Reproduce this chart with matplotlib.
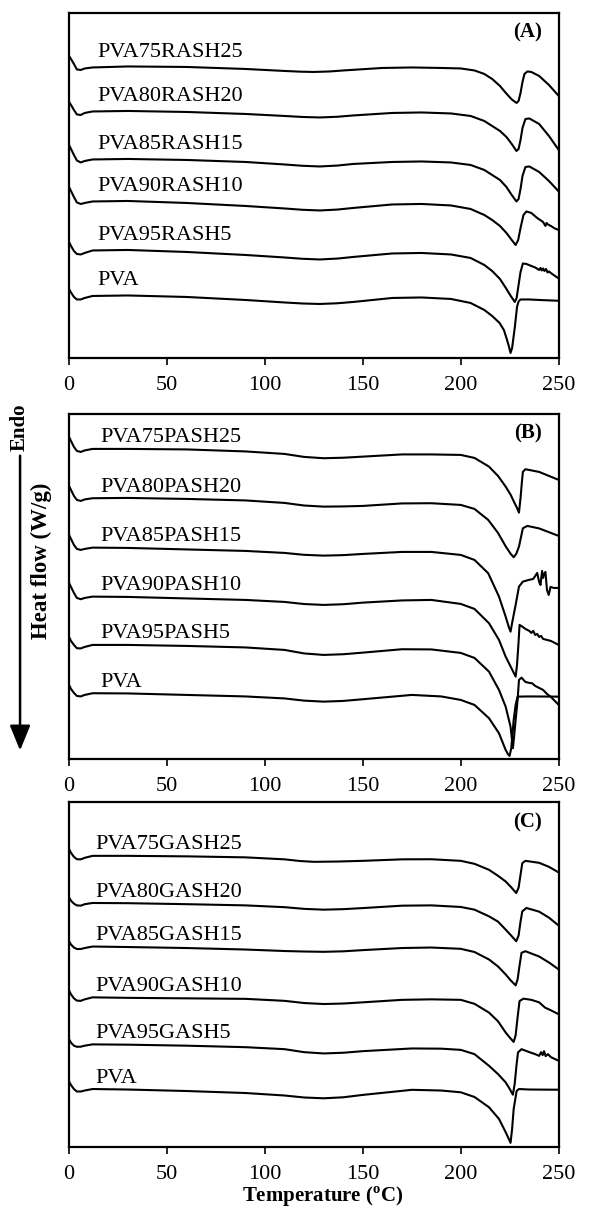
import numpy as np
import matplotlib
matplotlib.use("Agg")
import matplotlib.pyplot as plt

plt.rcParams['font.family'] = ['Liberation Serif', 'DejaVu Serif']
plt.rcParams['mathtext.fontset'] = 'custom'
plt.rcParams['mathtext.rm'] = 'Liberation Serif'
plt.rcParams['mathtext.bf'] = 'Liberation Serif:bold'

# DSC curves: (temperature degC, heat flow in arbitrary units)
a75 = [(0, 302), (1, 299), (2.5, 294), (4, 288.5), (6, 288), (8, 289.5), (12, 290.5), (30, 291.5),
       (60, 291), (90, 289), (110, 287), (118, 286.3), (125, 286), (133, 286.5), (140, 287.5),
       (160, 290), (175, 290.5), (190, 290), (200, 289.5), (207, 287.5), (212, 284), (216, 279),
       (220, 272), (223, 265), (226, 258.5), (228.5, 255), (229.5, 257), (230.5, 265),
       (231.5, 276), (232.5, 284), (234, 286.5), (236, 286), (240, 282), (245, 273), (250, 262)]
a80 = [(0, 256), (1, 253), (2.5, 248), (4, 243.5), (6, 243), (8, 245), (12, 246.5), (30, 247),
       (60, 246), (90, 244), (110, 242), (119, 241), (128, 240.5), (137, 241.2), (145, 242.5),
       (165, 245), (180, 245.5), (195, 244.5), (205, 242), (212, 237), (216, 232), (220, 227),
       (223.3, 221), (226, 214), (228.4, 207), (229.5, 209), (230.5, 218), (231.5, 230),
       (233, 239), (235, 239.5), (240, 234), (245, 222), (250, 208)]
a85 = [(0, 213), (1, 209), (2.5, 203), (4, 197.5), (6, 195.5), (8, 197), (12, 198.5), (30, 199),
       (60, 198), (90, 196), (110, 193.5), (119, 192.2), (128, 191.5), (137, 192.4), (145, 194),
       (165, 196), (180, 196.5), (195, 195.5), (205, 193), (212, 188), (216, 183), (220, 178),
       (223.3, 171), (226, 163), (228.4, 156.5), (229.5, 159), (230.5, 169), (231.5, 182),
       (233, 191), (235, 191.5), (240, 186), (245, 177), (250, 166.5)]
a90 = [(0, 171), (1, 167), (2.5, 161), (4, 155.5), (6, 154), (8, 155), (12, 156.5), (30, 157),
       (60, 155), (90, 152), (110, 149.5), (119, 148.2), (128, 147.5), (137, 148.4), (145, 150),
       (165, 153.5), (180, 154), (195, 152.5), (205, 149), (212, 143), (216, 138), (220, 132),
       (223.3, 125), (226, 118), (228, 113), (229.3, 118), (230.5, 130), (232, 143),
       (233.5, 146.5), (236, 145), (239, 140), (242, 136), (243.2, 132), (243.8, 135),
       (244.5, 133.5), (246, 132), (248, 129.5), (250, 128)]
a95 = [(0, 116), (1, 112), (2.5, 107), (4, 104), (6, 103.5), (8, 105), (12, 107.5), (30, 108),
       (60, 106), (90, 103), (110, 100.5), (119, 99.2), (128, 98.5), (137, 99.4), (145, 101),
       (165, 104.5), (180, 105), (195, 103.5), (205, 100), (212, 93), (216, 87), (220, 79),
       (223, 70), (225.5, 62), (227.6, 56), (228.5, 60), (229.5, 73), (230.5, 86),
       (231.7, 94.5), (233.5, 94), (236, 92), (238, 90.5), (240, 88), (240.7, 90), (241.3, 87.5),
       (242, 89.5), (242.7, 87), (243.5, 89), (244.3, 85.5), (245, 86.5), (247, 83.5),
       (250, 79.5)]
a_pva = [(0, 69), (1, 65.5), (2.5, 61), (4, 58.5), (6, 58.5), (8, 60), (12, 62), (30, 62.5),
         (60, 61), (90, 58), (110, 55.5), (119, 54.5), (128, 54), (137, 54.7), (145, 56),
         (165, 60), (180, 60.5), (195, 59), (205, 55), (212, 48), (216, 42), (219.8, 35),
         (222, 28), (223.3, 20), (224.5, 12), (225.4, 5), (226.2, 10), (227, 22), (227.6, 31),
         (228.7, 51), (229.5, 56.5), (230.5, 58.5), (235, 58.5), (240, 58), (250, 57.2)]

b75 = [(0, 322), (1, 318), (2.5, 312), (4, 308), (6, 307), (8, 308.5), (12, 310), (30, 310),
       (60, 309.5), (90, 307.5), (110, 305), (120, 302), (130, 300.7), (140, 301.2),
       (150, 302.3), (170, 304.5), (185, 304.5), (200, 304), (207, 301), (214.4, 292.3),
       (219, 283), (222.9, 272.3), (225.5, 264), (227.1, 257.3), (228.7, 251), (229.7, 246.3),
       (230.5, 261), (231.2, 277), (231.7, 287), (233, 289.7), (240, 287), (250, 279)]
b80 = [(0, 273), (1, 269), (2.5, 263), (4, 259), (6, 258), (8, 259.5), (12, 260.7), (30, 261),
       (60, 260), (90, 258.5), (110, 256), (120, 253.4), (130, 252.3), (140, 252.5), (150, 253),
       (170, 255.5), (185, 255.7), (200, 254), (207, 250), (214, 239), (219, 226),
       (223, 212.3), (225.5, 205), (227, 201.7), (228.3, 205), (229.7, 212.3), (231.7, 230.7),
       (234, 233), (240, 230.5), (250, 223)]
b85 = [(0, 224), (1, 220), (2.5, 214), (4, 210), (6, 209), (8, 210), (12, 211.3), (30, 211),
       (60, 209.5), (90, 208), (110, 206), (120, 204.1), (130, 203.3), (140, 203.8), (150, 205),
       (170, 207), (185, 207), (200, 204), (207, 199), (214, 185.7), (219.5, 162.3),
       (222.9, 142.3), (224.5, 132), (225.4, 127.3), (226.3, 137), (228, 154), (229.7, 172.3),
       (231.7, 177.3), (234.7, 179), (237, 180), (239, 186), (240, 177), (240.7, 174),
       (241.5, 188), (242, 181), (242.4, 184), (243.2, 187), (244, 169), (244.9, 164),
       (245.8, 172), (247.5, 171), (250, 171)]
b90 = [(0, 176), (1, 172), (2.5, 166), (4, 161), (6, 159.7), (8, 161), (12, 162.3), (30, 162),
       (60, 160.5), (90, 159), (110, 157), (120, 154.9), (130, 154), (140, 154.7), (150, 156.3),
       (170, 158.5), (185, 159), (200, 155), (207, 150), (214.4, 135.7), (219.5, 119),
       (222.9, 102.3), (226.3, 89), (228, 82.3), (228.7, 94), (229.4, 114), (230, 134),
       (231.4, 132.3), (233, 130), (235, 128), (236, 126), (237, 128), (238, 124), (239, 125),
       (240, 122), (241, 123), (242, 120), (244, 119), (246, 118), (248, 116), (250, 114)]
b95 = [(0, 122), (1, 118), (2.5, 114), (4, 110.7), (6, 110.5), (8, 112), (12, 114), (30, 114),
       (60, 113), (90, 111.5), (110, 109), (120, 105.5), (130, 104), (140, 104.7), (150, 106.3),
       (170, 109.7), (185, 109.5), (200, 106), (207, 101), (214.4, 87.3), (219.5, 69),
       (222.9, 52.3), (225.4, 32.3), (226.6, 10.7), (227.3, 24), (228, 39), (229, 59),
       (229.7, 79), (231, 81.3), (233, 77), (235, 76), (236.4, 75.7), (238, 73), (240, 71),
       (242, 69), (244, 65), (246, 62), (248, 58), (250, 54)]
b_pva = [(0, 74), (1, 70), (2.5, 66), (4, 63), (6, 62.5), (8, 64), (12, 65.7), (30, 65.5),
         (60, 64), (90, 62.5), (110, 60.5), (120, 58.3), (130, 57.3), (140, 58), (150, 59.7),
         (175, 64), (190, 62.5), (200, 59), (207, 54), (214.4, 40.7), (219.5, 25.7),
         (222.9, 9), (224, 5), (224.9, 3), (225.8, 11), (227, 39), (228, 54), (229, 62.3),
         (235, 62.5), (250, 62.3)]

c75 = [(0, 299), (1, 295), (2.5, 291), (4, 288.6), (6, 288.5), (8, 290), (12, 292), (30, 292),
       (60, 291.5), (90, 290.5), (110, 288.5), (118, 286.8), (125, 286), (137, 286.3),
       (150, 287), (170, 288.5), (185, 288.6), (200, 287), (207, 284), (214.4, 278), (219, 272),
       (222.9, 266.3), (225.5, 261), (228.3, 254.7), (229.5, 260), (230.5, 273),
       (231.4, 284.7), (233, 287), (240, 285), (245, 281), (250, 275.3)]
c80 = [(0, 250.4), (1, 247), (2.5, 244), (4, 242.3), (6, 242), (8, 243.5), (12, 244.7),
       (30, 244.5), (60, 243.5), (90, 242.3), (110, 240.5), (120, 238.8), (130, 238),
       (140, 238.5), (150, 239.6), (170, 242), (185, 242.3), (200, 240.7), (207, 238),
       (214.4, 231.3), (219, 226), (222.9, 218), (225.5, 212.5), (228.3, 206.3), (229.5, 212),
       (230.5, 226), (231.4, 236.3), (233.5, 239.7), (240, 236), (245, 230), (250, 222)]
c85 = [(0, 206.5), (1, 203), (2.5, 200), (4, 198.5), (6, 198.5), (8, 199.5), (12, 201),
       (30, 200.5), (60, 199.5), (90, 198), (110, 196.5), (120, 196), (130, 195.7), (140, 196.2),
       (150, 197.4), (170, 199.5), (185, 200), (200, 198.7), (207, 195.5), (214.4, 188),
       (219, 181), (222.9, 173), (225.5, 167), (228, 162), (229, 168), (230, 182), (231, 194.7),
       (233, 196.3), (240, 191), (245, 185), (250, 178)]
c90 = [(0, 157), (1, 153), (2.5, 149), (4, 146.7), (6, 146.5), (8, 148), (12, 150), (30, 149.5),
       (60, 149), (90, 148.5), (110, 146.5), (120, 144.3), (130, 143.3), (140, 143.8), (150, 145),
       (170, 147.5), (185, 148), (200, 147.5), (207, 143.5), (214.4, 134.7), (219, 126),
       (222.9, 114.7), (225.5, 108.5), (227, 105.3), (228, 112), (229, 130), (230, 146.3),
       (232, 148.7), (236, 147.5), (240, 145), (243, 139.7), (246, 137), (250, 133)]
c95 = [(0, 108), (1, 104.5), (2.5, 101.5), (4, 100.4), (6, 100.5), (8, 101.5), (12, 102.8),
       (30, 102.5), (60, 101.5), (90, 100), (110, 98), (120, 95), (130, 93.7), (140, 94.4),
       (150, 96), (175, 98.7), (190, 98.5), (200, 97.3), (207, 93), (214.4, 81.3), (219, 73),
       (222.9, 64.7), (225, 58), (226.6, 52.3), (227.5, 63), (228.5, 83), (229.2, 94.7),
       (231, 98), (235, 95), (238, 93), (240, 91.3), (241, 95), (241.8, 92), (242.5, 96),
       (243.3, 91), (244.5, 93), (246, 90), (250, 86.3)]
c_pva = [(0, 65.6), (1, 62), (2.5, 58), (4, 55.5), (6, 55.5), (8, 56.5), (12, 58), (30, 57.5),
         (60, 56), (90, 54), (110, 51.5), (120, 49.5), (130, 48.7), (140, 49.7), (150, 52.1),
         (175, 57.2), (190, 56.5), (200, 54.7), (207, 50), (214.4, 39.7), (219.5, 28),
         (222.9, 14.7), (224.5, 8), (225.4, 4), (226.2, 18), (227, 38), (228.5, 56),
         (229.7, 58), (235, 57.5), (250, 57.3)]

names_a = ["PVA75RASH25", "PVA80RASH20", "PVA85RASH15", "PVA90RASH10", "PVA95RASH5", "PVA"]
names_b = ["PVA75PASH25", "PVA80PASH20", "PVA85PASH15", "PVA90PASH10", "PVA95PASH5", "PVA"]
names_c = ["PVA75GASH25", "PVA80GASH20", "PVA85GASH15", "PVA90GASH10", "PVA95GASH5", "PVA"]
xticks = [0, 50, 100, 150, 200, 250]

panels = [
    ("(A)", [a75, a80, a85, a90, a95, a_pva], names_a, 345, 15, 14.3),
    ("(B)", [b75, b80, b85, b90, b95, b_pva], names_b, 345, 11, 16),
    ("(C)", [c75, c80, c85, c90, c95, c_pva], names_c, 346, 11, 13.5),
]
boxes = [[0.117, 0.7044, 0.83, 0.2849],
         [0.117, 0.3733, 0.83, 0.2849],
         [0.117, 0.0530, 0.83, 0.2847]]

fig = plt.figure(figsize=(5.9, 12.11), dpi=100)

for (tag, curves, names, ymax, lab_off, lab_x), box in zip(panels, boxes):
    ax = fig.add_axes(box)
    for pts, name in zip(curves, names):
        t, v = np.array(pts).T
        ax.plot(t, v, color='black', lw=1.5)
        ax.text(lab_x, np.interp(12, t, v) + lab_off, name, fontsize=16, va='center', ha='left')
    ax.text(0.937, 0.942, tag, transform=ax.transAxes, fontsize=15, fontweight='bold',
            ha='center', va='center')
    ax.set_xlim(0, 250)
    ax.set_ylim(0, ymax)
    ax.set_xticks(xticks)
    ax.set_yticks([])
    ax.tick_params(axis='x', direction='out', length=5, width=1.2, labelsize=16, pad=8)
    for sp in ax.spines.values():
        sp.set_linewidth(1.6)

fig.text(0.547, 0.002, r'Temperature ($^{\mathbf{o}}$C)', fontsize=15, fontweight='bold',
         ha='center', va='bottom')
fig.text(0.071, 0.537, 'Heat flow (W/g)', fontsize=16.5, fontweight='bold', rotation=90,
         ha='center', va='center')
fig.text(0.034, 0.647, 'Endo', fontsize=15, fontweight='bold', rotation=90,
         ha='center', va='center')
fig.add_artist(matplotlib.patches.FancyArrowPatch(
    (0.034, 0.626), (0.034, 0.378), transform=fig.transFigure, color='black', lw=1.8,
    arrowstyle='-|>,head_length=1.1,head_width=0.45', mutation_scale=14))

fig.savefig('out.png', dpi=100)
